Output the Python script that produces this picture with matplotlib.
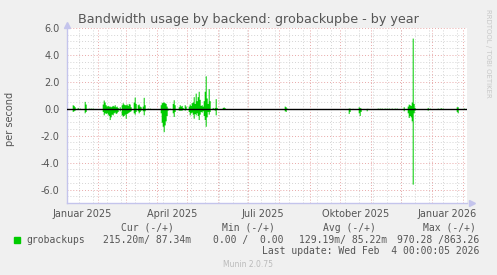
import numpy as np
import matplotlib
matplotlib.use("Agg")
import matplotlib.pyplot as plt
from matplotlib import transforms

# ---- Data (day = days since 2025-01-01) ----
spike_days = [6, 7, 8, 11, 13, 18, 19, 22, 24, 26,
              36, 37, 38, 39, 40, 41, 42, 43, 44, 45, 46, 47, 48, 49, 50, 51, 53,
              55, 56, 57, 58, 59, 60, 61, 62, 63, 64, 67, 68, 69, 71, 72, 73, 74,
              76, 77, 78, 81, 83,
              94, 95, 96, 97, 98, 99, 100, 101, 103, 106, 107, 108,
              112, 113, 114, 115, 116, 118, 119, 122, 123, 124, 125, 126, 127, 128,
              129, 130, 131, 132, 133, 134, 135, 136, 137, 138, 139, 140, 141, 142,
              143, 146, 148, 149, 150, 156, 157, 158,
              218, 219, 220, 282, 283, 286, 292, 293, 294, 300, 301,
              311, 313, 315, 318, 320, 322, 325, 328, 330,
              337, 341, 342, 343, 344, 345, 346, 347, 348,
              361, 363, 371, 374, 376, 390, 391, 397]
up_vals = [0.30, 0.25, 0.15, 0.10, 0.05, 0.55, 0.35, 0.05, 0.05, 0.05,
           0.35, 0.65, 0.50, 0.30, 0.20, 0.25, 0.20, 0.20, 0.15, 0.20, 0.25, 0.20, 0.30, 0.15, 0.20, 0.10, 0.15,
           0.30, 0.45, 0.35, 0.30, 0.30, 0.35, 0.25, 0.40, 0.35, 0.15, 0.50, 0.87, 0.40, 0.30, 0.35, 0.20, 0.15,
           0.20, 0.85, 0.30, 0.05, 0.05,
           0.30, 0.45, 0.50, 0.50, 0.45, 0.40, 0.20, 0.05, 0.05, 0.40, 0.67, 0.30,
           0.15, 0.30, 0.20, 0.25, 0.10, 0.30, 0.20, 0.20, 0.35, 0.25, 0.45, 0.50, 0.90, 0.40,
           1.16, 0.60, 0.90, 1.30, 0.70, 0.25, 0.30, 0.20, 0.60, 1.30, 2.45, 0.80, 0.40, 1.50,
           0.60, 0.10, 0.10, 0.75, 0.10, 0.10, 0.13, 0.08,
           0.20, 0.15, 0.05, 0.05, 0.05, 0.03, 0.15, 0.10, 0.05, 0.03, 0.03,
           0.05, 0.05, 0.05, 0.05, 0.05, 0.05, 0.05, 0.05, 0.05,
           0.15, 0.20, 0.35, 0.30, 0.25, 0.50, 5.25, 0.40, 0.10,
           0.10, 0.05, 0.05, 0.08, 0.05, 0.15, 0.15, 0.05]
down_vals = [0.20, 0.15, 0.10, 0.05, 0.05, 0.30, 0.20, 0.02, 0.02, 0.02,
             0.20, 0.45, 0.30, 0.35, 0.30, 0.40, 0.50, 0.80, 0.60, 0.40, 0.45, 0.30, 0.25, 0.35, 0.30, 0.20, 0.15,
             0.45, 0.55, 0.50, 0.40, 0.70, 0.35, 0.30, 0.25, 0.20, 0.15, 0.30, 0.40, 0.20, 0.15, 0.30, 0.20, 0.10,
             0.15, 0.45, 0.15, 0.02, 0.02,
             0.30, 1.00, 1.30, 1.70, 1.20, 0.90, 0.50, 0.10, 0.05, 0.30, 0.57, 0.20,
             0.10, 0.10, 0.10, 0.10, 0.05, 0.10, 0.05, 0.20, 0.45, 0.30, 0.25, 0.40, 0.70, 0.35,
             0.45, 0.30, 0.50, 0.80, 0.40, 0.20, 0.25, 0.15, 0.50, 0.80, 1.30, 0.60, 0.20, 0.40,
             0.20, 0.05, 0.10, 0.45, 0.05, 0.02, 0.05, 0.02,
             0.15, 0.20, 0.05, 0.35, 0.20, 0.03, 0.30, 0.50, 0.20, 0.15, 0.05,
             0.05, 0.05, 0.05, 0.05, 0.05, 0.05, 0.05, 0.05, 0.05,
             0.15, 0.30, 0.65, 0.50, 0.60, 0.90, 5.60, 0.30, 0.10,
             0.10, 0.05, 0.05, 0.05, 0.03, 0.20, 0.30, 0.05]

x_labels = ["Januar 2025", "April 2025", "Juli 2025", "Oktober 2025", "Januar 2026"]
x_label_dates = ["2025-01-16", "2025-04-16", "2025-07-16", "2025-10-16", "2026-01-16"]

legend_name = "grobackups"
cur_txt = "215.20m/ 87.34m"
min_txt = "0.00 /  0.00"
avg_txt = "129.19m/ 85.22m"
max_txt = "970.28 /863.26"
last_update = "Last update: Wed Feb  4 00:00:05 2026"

# ---- Build daily series ----
ndays = 400
day0 = np.datetime64("2025-01-01")
days = np.arange(ndays)
up = np.zeros(ndays)
down = np.zeros(ndays)
up[spike_days] = up_vals
down[spike_days] = down_vals

W, H = 497, 275
fig = plt.figure(figsize=(W / 100, H / 100), dpi=100, facecolor="#f0f0f0")
ax = fig.add_axes([66.7 / W, 72 / H, 400 / W, 175 / H])
ax.set_facecolor("white")
ax.set_xlim(0, 400)
ax.set_ylim(-7, 6)

txt_col = "#555555"
dot = (0, (1, 2))

# grid: minor gray, major red
for v in np.arange(-7, 6.01, 0.5):
    if v % 2 != 0:
        ax.axhline(v, color="#d4d4d4", lw=0.7, ls=dot, zorder=1)
minor_start = (np.datetime64("2025-01-13") - day0).astype(int)
for d in range(minor_start, ndays, 14):
    ax.axvline(d + 0.5, color="#d4d4d4", lw=0.7, ls=dot, zorder=1)
for v in range(-6, 7, 2):
    ax.axhline(v, color="#e8a8a8", lw=0.7, ls=dot, zorder=1)
months = np.arange(np.datetime64("2025-01"), np.datetime64("2026-03"))
month_days = (months.astype("datetime64[D]") - day0).astype(int)
for d in month_days:
    if 0 < d < ndays:
        ax.axvline(d + 0.5, color="#e8a8a8", lw=0.7, ls=dot, zorder=1)

# data
ax.fill_between(days, -down, up, step="mid", color="#00cc00", lw=0, zorder=2)
ax.axhline(0, color="black", lw=1.0, zorder=3)

# axes styling
for s in ["top", "right"]:
    ax.spines[s].set_visible(False)
for s in ["left", "bottom"]:
    ax.spines[s].set_color("#c4c4ec")
    ax.spines[s].set_linewidth(1.0)
ax.plot([0], [1], marker="^", ms=5, color="#c4c4ec", clip_on=False,
        transform=transforms.offset_copy(ax.transAxes, fig=fig, x=0, y=3, units="dots"))
ax.plot([1], [0], marker=">", ms=5, color="#c4c4ec", clip_on=False,
        transform=transforms.offset_copy(ax.transAxes, fig=fig, x=5, y=0, units="dots"))

ax.set_yticks(range(-6, 7, 2))
ax.set_yticklabels([f"{v:.1f}" for v in range(-6, 7, 2)])
label_pos = [(np.datetime64(d) - day0).astype(int) + 0.5 for d in x_label_dates]
ax.set_xticks(label_pos)
ax.set_xticklabels(x_labels)
ax.tick_params(length=0, labelsize=7, colors=txt_col)
ax.tick_params(axis="y", pad=5)
ax.tick_params(axis="x", pad=4)


def px(x, y):
    return x / W, 1 - y / H


fig.text(*px(248.5, 23.5), "Bandwidth usage by backend: grobackupbe - by year",
         ha="center", va="baseline", fontsize=9.2, color=txt_col)
fig.text(*px(10.5, 118.5), "per second", rotation=90, ha="center", va="center",
         fontsize=7, color=txt_col)
fig.text(*px(488, 53), "RRDTOOL / TOBI OETIKER", rotation=270, ha="center", va="center",
         fontsize=5, color="#c8c8c8")

mono = dict(family="DejaVu Sans Mono", fontsize=7, color=txt_col, va="baseline")
fig.text(*px(121, 230.7), "Cur (-/+)", **mono)
fig.text(*px(221.7, 230.7), "Min (-/+)", **mono)
fig.text(*px(322.7, 230.7), "Avg (-/+)", **mono)
fig.text(*px(422.7, 230.7), "Max (-/+)", **mono)
fig.patches.append(plt.Rectangle(px(14, 243), 6 / W, 6 / H, color="#00cc00",
                                 transform=fig.transFigure, figure=fig))
fig.text(*px(26, 242.7), legend_name, **mono)
fig.text(*px(103.3, 242.7), cur_txt, **mono)
fig.text(*px(212.7, 242.7), min_txt, **mono)
fig.text(*px(299.3, 242.7), avg_txt, **mono)
fig.text(*px(396.7, 242.7), max_txt, **mono)
fig.text(*px(261.7, 254), last_update, **mono)
fig.text(*px(248, 267), "Munin 2.0.75", ha="center", va="baseline", fontsize=5.5,
         color="#bbbbbb")

fig.savefig("out.png", dpi=100, facecolor=fig.get_facecolor())
